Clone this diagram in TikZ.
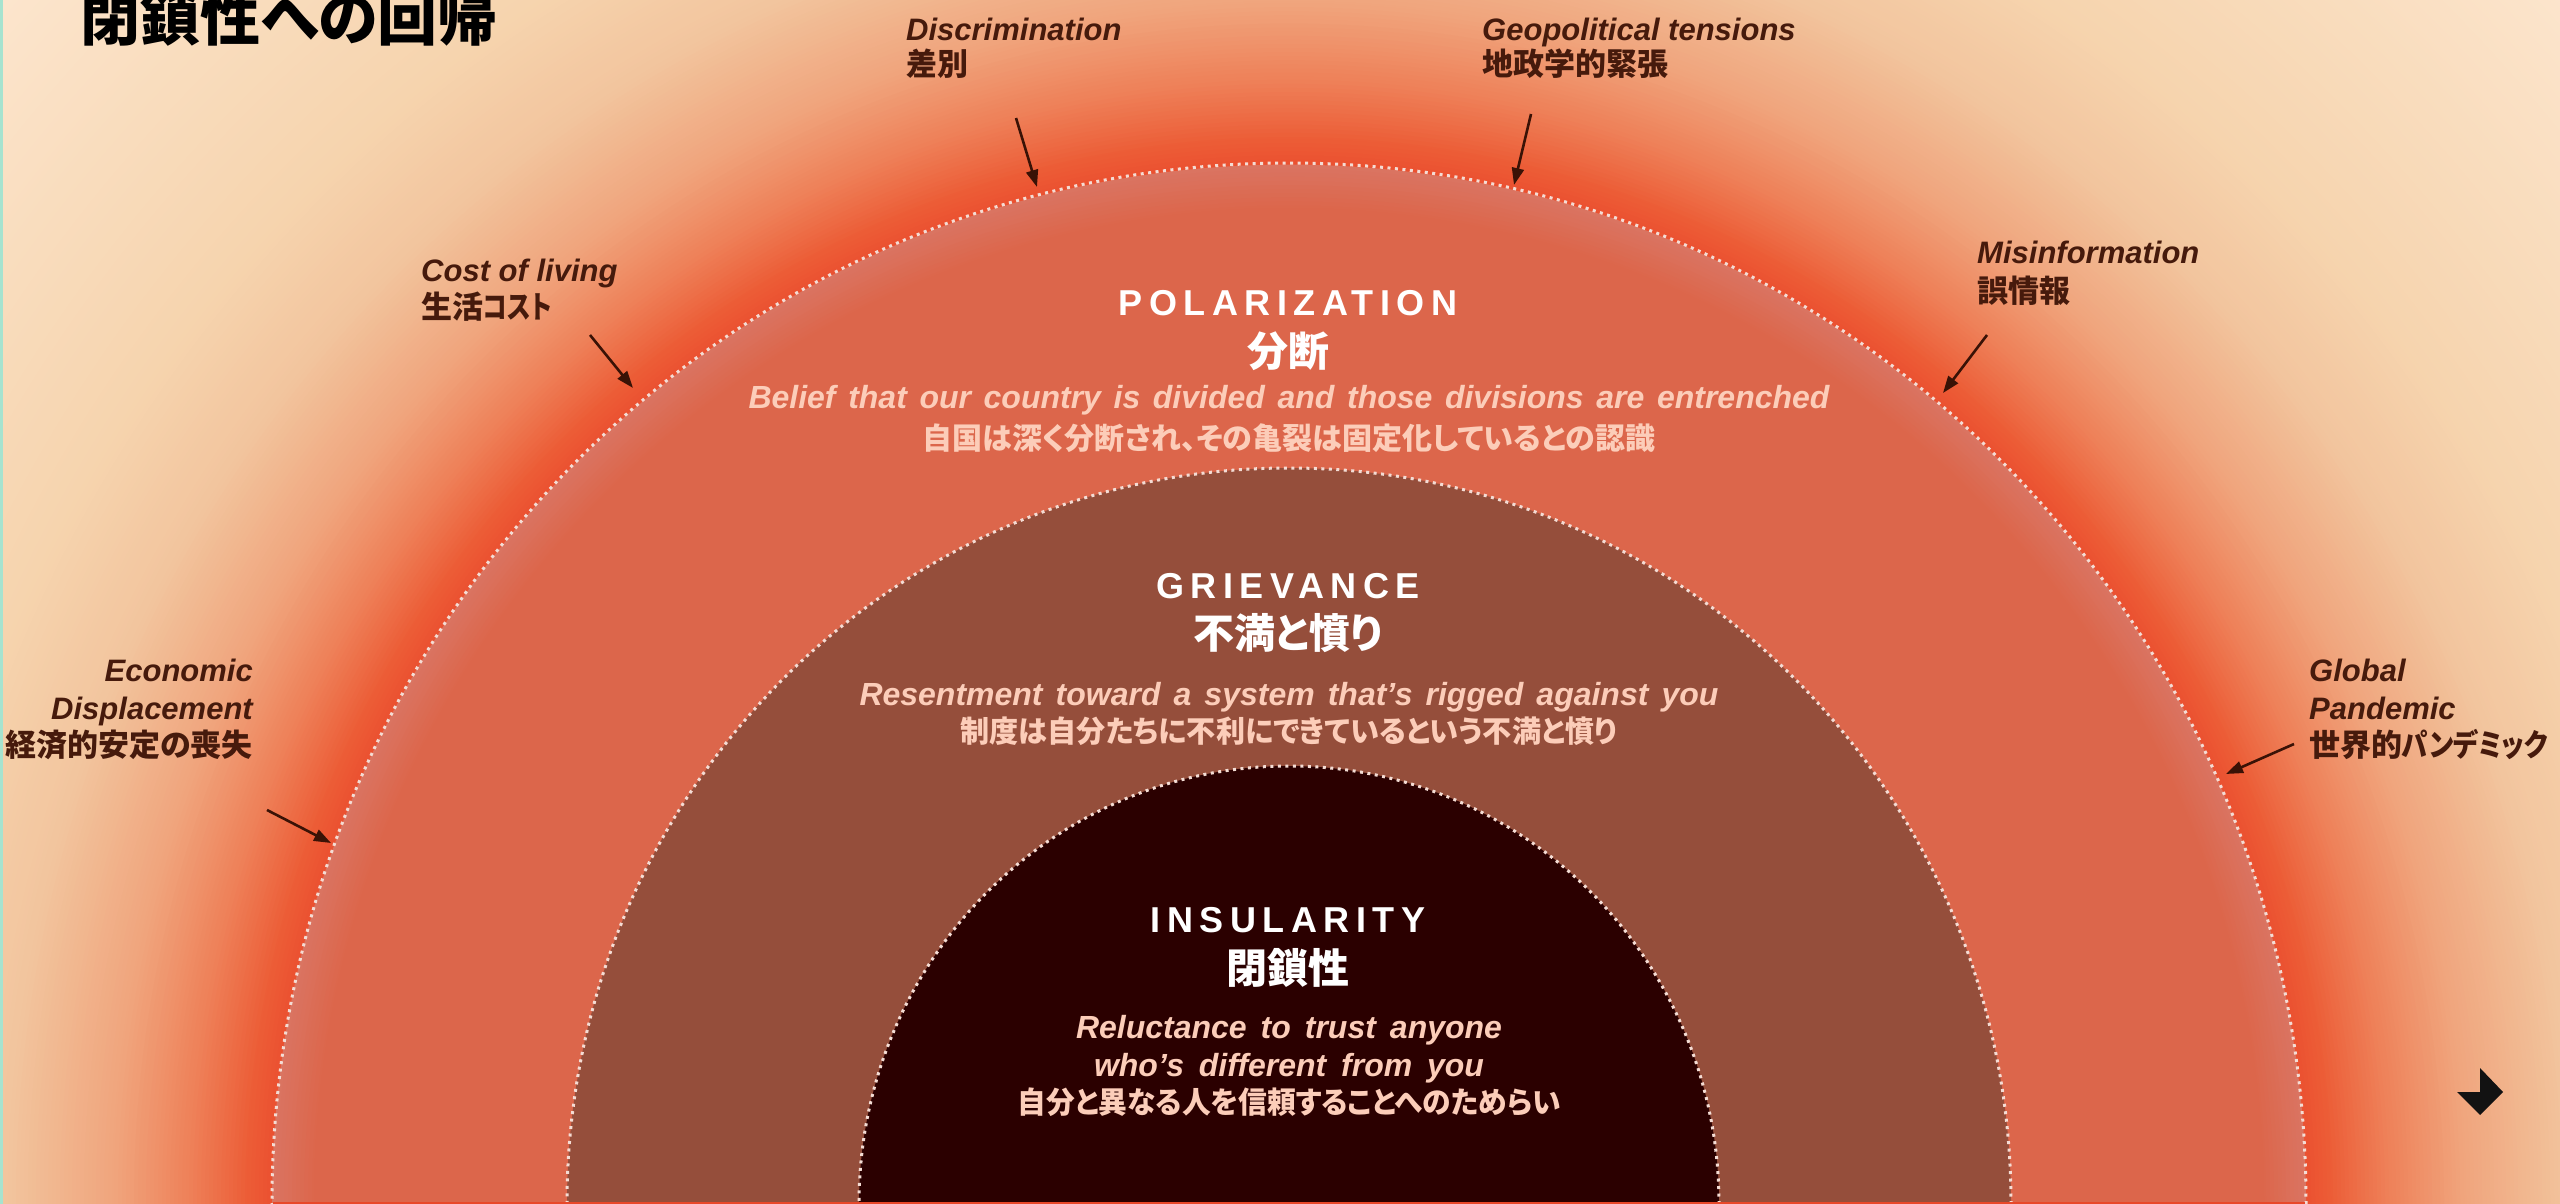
\documentclass[tikz,border=0pt]{standalone}
\usepackage{fontspec}
\usepackage{graphicx}
\usetikzlibrary{arrows.meta}
\setmainfont{Liberation Sans}
\newfontfamily\lat{Liberation Sans}
\newfontfamily\headf{Liberation Sans}[LetterSpace=18]
\newfontfamily\jp{Noto Sans CJK JP}[RawFeature={+palt}]
\definecolor{labelbrown}{HTML}{461A0C}
\definecolor{arrowbrown}{HTML}{3A1206}
\definecolor{descpink}{HTML}{FCCDB9}
\definecolor{ringA}{HTML}{DC664B}
\definecolor{ringArim}{HTML}{DA7461}
\definecolor{ringB}{HTML}{954E3B}
\definecolor{ringC}{HTML}{2B0000}
\definecolor{dotc}{HTML}{F4DCD4}
\definecolor{bg0}{HTML}{EB5030}
\definecolor{bg1}{HTML}{EC5C36}
\definecolor{bg2}{HTML}{EE8058}
\definecolor{bg3}{HTML}{F0A47C}
\definecolor{bg4}{HTML}{F2C59E}
\definecolor{bg5}{HTML}{F6D4AE}
\definecolor{bg6}{HTML}{FDE8D2}
\definecolor{edgeline}{HTML}{A6E3CF}
\definecolor{bottomred}{HTML}{E8482A}
% concentric band: #1 inner r, #2 outer r, #3 inner colour, #4 outer colour
\newcommand\myband[4]{%
  \pgfmathtruncatemacro\myrsec{#2-4}%
  \foreach \r in {#2,\myrsec,...,#1}{%
    \pgfmathtruncatemacro\mypp{round((\r-#1)/(#2-#1)*100)}%
    \pgfmathsetmacro\myry{1.022*\r}%
    \fill[#4!\mypp!#3] (C) ellipse[x radius=\r pt, y radius=\myry pt];
  }}
\tikzset{
  lbl/.style={text=labelbrown, inner sep=0pt, font=\lat\bfseries\itshape\fontsize{31}{37}\selectfont},
  lbljp/.style={text=labelbrown, inner sep=0pt, font=\jp\bfseries\fontsize{31}{37}\selectfont},
  headen/.style={text=white, inner sep=0pt, anchor=base, font=\headf\bfseries\fontsize{36}{40}\selectfont},
  headjp/.style={text=white, inner sep=0pt, anchor=base, font=\jp\bfseries\fontsize{41}{45}\selectfont},
  descen/.style={text=descpink, inner sep=0pt, anchor=base, font=\lat\bfseries\itshape\fontsize{32}{38}\selectfont},
  descjp/.style={text=descpink, inner sep=0pt, anchor=base, font=\jp\bfseries\fontsize{30}{36}\selectfont},
  arr/.style={draw=arrowbrown, line width=2.6pt, -{Triangle[length=17pt,width=12pt]}},
  dotline/.style={draw=dotc, line width=3pt, dash pattern=on 3pt off 4.5pt}
}
\begin{document}
\begin{tikzpicture}[x=1pt,y=-1pt]
\useasboundingbox (0,0) rectangle (2560,1204);
\clip (0,0) rectangle (2560,1204);
\coordinate (C) at (1289,1204);
% background glow
\fill[bg6] (0,0) rectangle (2560,1204);
\myband{1400}{1800}{bg5}{bg6}
\myband{1285}{1400}{bg4}{bg5}
\myband{1175}{1285}{bg3}{bg4}
\myband{1100}{1175}{bg2}{bg3}
\myband{1042}{1100}{bg1}{bg2}
\myband{1017}{1042}{bg0}{bg1}
% rings
\myband{975}{1017}{ringA}{ringArim}
\fill[ringA] (C) ellipse[x radius=975pt, y radius=996pt];
\draw[dotline] (C) ellipse[x radius=1017pt, y radius=1041pt];
\fill[ringB] (C) ellipse[x radius=722pt, y radius=736pt];
\draw[dotline] (C) ellipse[x radius=722pt, y radius=736pt];
\fill[ringC] (C) ellipse[x radius=430pt, y radius=438pt];
\draw[dotline] (C) ellipse[x radius=430pt, y radius=438pt];
% bottom line and left edge line
\draw[bottomred, line width=2pt] (273,1203) -- (2305,1203);
\draw[edgeline, line width=3pt] (1,0) -- (1,1204);
% title
\node[anchor=base west, inner sep=0pt, font=\jp\bfseries\fontsize{60}{66}\selectfont] (title) at (80,41) {閉鎖性への回帰};
% center texts
\node[headen] (polEN) at (1288,315) {POLARIZATION};
\node[headjp] (polJP) at (1288,366) {分断};
\node[descen] (polD1) at (1289,408) {\makebox[1081pt][s]{Belief that our country is divided and those divisions are entrenched}};
\node[descjp] (polD2) at (1289,449) {自国は深く分断され、その亀裂は固定化しているとの認識};
\node[headen] (griEN) at (1288,598) {GRIEVANCE};
\node[headjp] (griJP) at (1288,648) {不満と憤り};
\node[descen] (griD1) at (1289,705) {\makebox[859pt][s]{Resentment toward a system that’s rigged against you}};
\node[descjp] (griD2) at (1289,742) {\scalebox{0.97}[1]{制度は自分たちに不利にできているという不満と憤り}};
\node[headen] (insEN) at (1288,932) {INSULARITY};
\node[headjp] (insJP) at (1288,983) {閉鎖性};
\node[descen] (insD1) at (1289,1038) {\makebox[426pt][s]{Reluctance to trust anyone}};
\node[descen] (insD2) at (1289,1076) {\makebox[390pt][s]{who’s different from you}};
\node[descjp] (insD3) at (1289,1113) {\scalebox{0.957}[1]{自分と異なる人を信頼することへのためらい}};
% outer labels
\node[lbl, anchor=base west] (disEN) at (906,41) {Discrimination};
\node[lbljp, anchor=base west] (disJP) at (906,76) {差別};
\node[lbl, anchor=base west] (geoEN) at (1482,41) {Geopolitical tensions};
\node[lbljp, anchor=base west] (geoJP) at (1482,76) {地政学的緊張};
\node[lbl, anchor=base west] (colEN) at (421,281) {Cost of living};
\node[lbljp, anchor=base west] (colJP) at (421,318) {生活\scalebox{0.8}[1]{コスト}};
\node[lbl, anchor=base west] (misEN) at (1977,263) {Misinformation};
\node[lbljp, anchor=base west] (misJP) at (1977,302) {誤情報};
\node[lbl, anchor=base east] (ecoEN1) at (253,681) {Economic};
\node[lbl, anchor=base east] (ecoEN2) at (253,719) {Displacement};
\node[lbljp, anchor=base east] (ecoJP) at (253,756) {経済的安定の喪失};
\node[lbl, anchor=base west] (gloEN1) at (2309,681) {Global};
\node[lbl, anchor=base west] (gloEN2) at (2309,719) {Pandemic};
\node[lbljp, anchor=base west] (gloJP) at (2309,756) {世界的\scalebox{0.85}[1]{パンデミック}};
% arrows
\coordinate (disA) at (1016,118); \coordinate (disB) at (1037,187);
\coordinate (geoA) at (1531,114); \coordinate (geoB) at (1514,185);
\coordinate (colA) at (590,335);  \coordinate (colB) at (633,388);
\coordinate (misA) at (1987,335); \coordinate (misB) at (1943,393);
\coordinate (ecoA) at (267,810);  \coordinate (ecoB) at (331,843);
\coordinate (gloA) at (2294,744); \coordinate (gloB) at (2226,774);
\draw[arr] (disA) -- (disB);
\draw[arr] (geoA) -- (geoB);
\draw[arr] (colA) -- (colB);
\draw[arr] (misA) -- (misB);
\draw[arr] (ecoA) -- (ecoB);
\draw[arr] (gloA) -- (gloB);
% corner icon
\fill[black!93] (2457,1092) -- (2480,1092) -- (2480,1068) -- (2503,1092) -- (2480,1115) -- cycle;
\end{tikzpicture}
\end{document}
